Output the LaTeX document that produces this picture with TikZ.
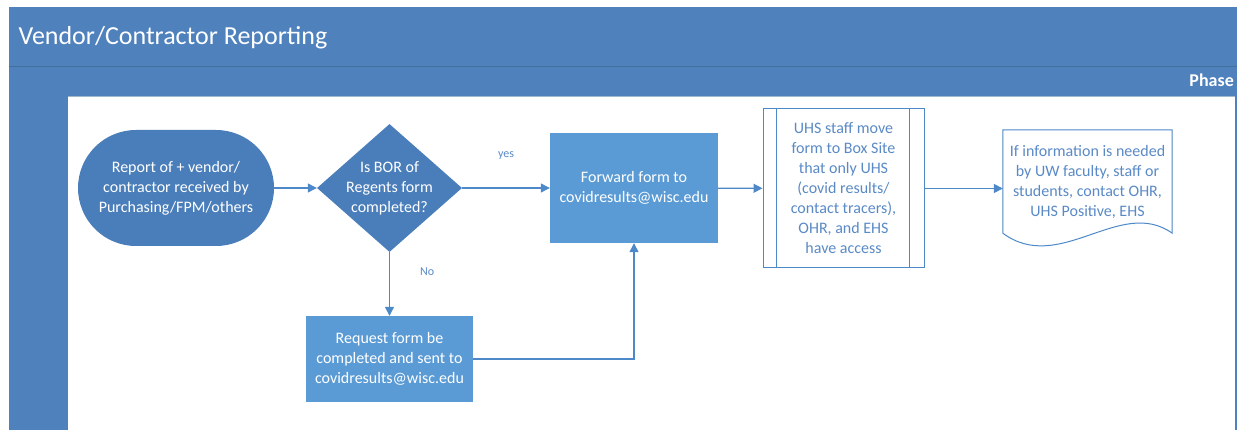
\documentclass[tikz,border=0pt]{standalone}
\usepackage{fontspec}
\setmainfont{Carlito}
\usepackage{tikz}
\usetikzlibrary{shapes.geometric, arrows.meta, positioning}
\definecolor{lanefill}{HTML}{4F81BD}
\definecolor{lanedark}{HTML}{41719C}
\definecolor{termfill}{HTML}{4A7EBB}
\definecolor{boxfill}{HTML}{5B9BD5}
\definecolor{linecol}{HTML}{4D88C8}
\definecolor{textblue}{HTML}{5A8AC6}
\tikzstyle{startstop} = [rectangle, rounded corners=58pt, minimum width=196pt, minimum height=116pt, fill=termfill, text=white]
\tikzstyle{decision}  = [diamond, aspect=1.13, inner sep=-10pt, minimum width=145pt, minimum height=128pt, fill=termfill, text=white]
\tikzstyle{process}   = [rectangle, fill=boxfill, text=white]
\tikzstyle{predef}    = [rectangle, draw=linecol, line width=1pt, fill=white, text=textblue, minimum width=161pt, minimum height=159pt]
\tikzstyle{infodoc}   = [rectangle, minimum width=169pt, minimum height=103pt, text=textblue]
\tikzstyle{branch}    = [font=\fontsize{12}{14}\selectfont, text=textblue, inner sep=0pt]
\tikzstyle{arrow}     = [line width=1.3pt, draw=linecol, -{Triangle[length=9pt,width=9pt]}]
\tikzset{every node/.style={align=center, font=\fontsize{16}{20}\selectfont}}

\begin{document}
\begin{tikzpicture}[x=1pt, y=-1pt]
    \useasboundingbox (0,0) rectangle (1239,430);
    \fill[white] (0,0) rectangle (1239,430);
    % swimlane frame
    \fill[lanefill] (9,7) rectangle (1237,430);
    \fill[white] (68,96) rectangle (1235,430);
    \draw[lanedark, line width=0.8pt] (9,66) -- (1237,66);
    \draw[lanedark!50, line width=0.8pt] (68,96) -- (1235,96);
    \node (title) at (15,45) [anchor=base west, text=white, font=\fontsize{26}{30}\selectfont] {Vendor/Contractor Reporting};
    \node (phase) at (1235,87) [anchor=base east, text=white, font=\fontsize{18}{22}\selectfont\bfseries, inner xsep=1pt] {Phase};

    \node (s)   at (176,   188)   [startstop] {Report of + vendor/\\contractor received by\\Purchasing/FPM/others};
    \node (dec) at (389.5, 188)   [decision]  {Is BOR of\\Regents form\\completed?};
    \node (fwd) at (634,   188)   [process, minimum width=168pt, minimum height=110pt] {Forward form to\\covidresults@wisc.edu};
    \node (req) at (389.5, 359)   [process, minimum width=167pt, minimum height=86pt] {Request form be\\completed and sent to\\covidresults@wisc.edu};
    \node (uhs) at (843.5, 188.5) [predef]    {UHS staff move\\form to Box Site\\that only UHS\\(covid results/\\contact tracers),\\OHR, and EHS\\have access};
    \node (info) at (1087.5, 181.5) [infodoc] {If information is needed\\by UW faculty, staff or\\students, contact OHR,\\UHS Positive, EHS};

    % side bars of the predefined process
    \draw[linecol, line width=1pt] ([xshift=13.5pt]uhs.north west) -- ([xshift=13.5pt]uhs.south west);
    \draw[linecol, line width=1pt] ([xshift=-15.5pt]uhs.north east) -- ([xshift=-15.5pt]uhs.south east);
    % document outline
    \draw[linecol, line width=1pt] (info.south west) -- (info.north west) -- (info.north east) -- (info.south east)
        .. controls +(-52,-37) and +(57,42) .. (info.south west);

    \draw [arrow] (s)   -- (dec);
    \draw [arrow] (dec) -- node[branch, above=28pt]{yes} (fwd);
    \draw [arrow] (dec) -- node[branch, pos=0.3, right=30pt]{No} (req);
    \draw [arrow] (req.east) -| (fwd.south);
    \draw [arrow] (fwd) -- (uhs);
    \draw [arrow] (uhs.east) -- (uhs.east -| info.west);
\end{tikzpicture}
\end{document}
